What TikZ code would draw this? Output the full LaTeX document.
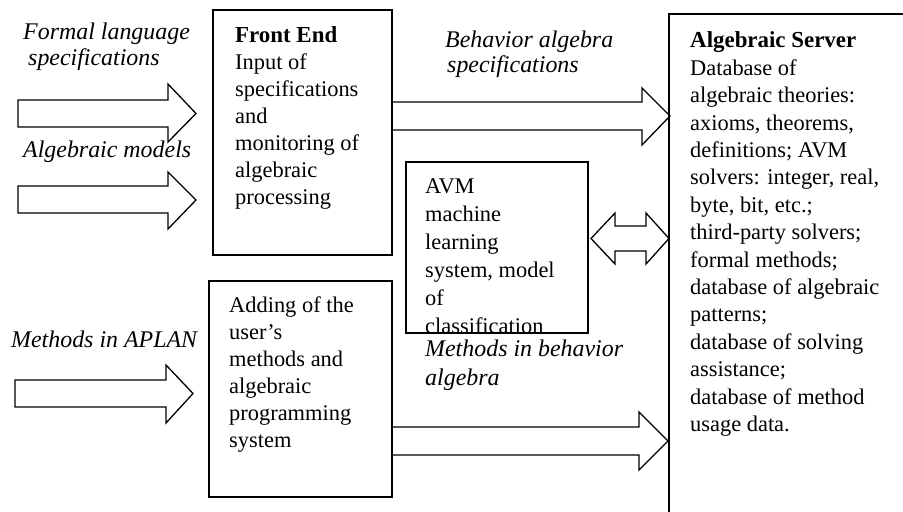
\documentclass[tikz,border=0pt]{standalone}
\usepackage{fontspec}
\setmainfont{Liberation Serif}
\begin{document}
\begin{tikzpicture}[x=1bp,y=-1bp,
  box/.style={draw,line width=1.3bp,inner sep=0pt},
  blk/.style={draw,line width=1.3bp,line join=miter},
  txt/.style={anchor=base west,inner sep=0pt,font=\fontsize{22.5}{27}\selectfont},
  lbl/.style={anchor=base west,inner sep=0pt,font=\fontsize{24}{27}\selectfont\itshape}]
\useasboundingbox (0,0) rectangle (903,512);
\clip (0,0) rectangle (903,512);
% boxes
\node[box,minimum width=179bp,minimum height=245bp] (fe) at (302.5,132.5) {};
\node[box,minimum width=183bp,minimum height=216bp] (add) at (300.5,389) {};
\node[box,minimum width=182bp,minimum height=171bp] (avm) at (497,247.5) {};
\draw[line width=1.3bp] (669,530) coordinate (srvbl) -- (669,14) coordinate (srvtl) -- (920,14) coordinate (srvtr);
% texts in boxes
\node[txt] (fetxt) at (235,43) {\parbox[t]{200bp}{\raggedright{\fontsize{23}{27}\selectfont\textbf{Front End}}\\Input of\\specifications\\and\\monitoring of\\algebraic\\processing}};
\node[txt] (addtxt) at (229,313) {\parbox[t]{200bp}{\raggedright Adding of the\\user’s\\methods and\\algebraic\\programming\\system}};
\begin{scope}
\clip ([shift={(0.65bp,-0.65bp)}]avm.north west) rectangle ([shift={(-0.65bp,1.2bp)}]avm.south east);
\node[txt,font=\fontsize{22.5}{28}\selectfont] (avmtxt) at (425,194) {\parbox[t]{200bp}{\raggedright AVM\\machine\\learning\\system, model\\of\\classification}};
\end{scope}
\node[txt,font=\fontsize{22.5}{27.5}\selectfont] (srvtxt) at (690,48) {\parbox[t]{230bp}{\raggedright{\fontsize{23}{27.5}\selectfont\textbf{Algebraic Server}}\\Database of\\algebraic theories:\\axioms, theorems,\\definitions; AVM\\solvers: integer, real,\\byte, bit, etc.;\\third-party solvers;\\formal methods;\\database of algebraic\\patterns;\\database of solving\\assistance;\\database of method\\usage data.}};
% labels
\node[lbl] (l1a) at (23,40) {Formal language};
\node[lbl] (l1b) at (28,66) {specifications};
\node[lbl] (l2) at (23,158) {Algebraic models};
\node[lbl] (l3) at (11,348) {Methods in APLAN};
\node[lbl] (l4a) at (445,48) {Behavior algebra};
\node[lbl] (l4b) at (447,73) {specifications};
\node[lbl] (l5a) at (425,357) {Methods in behavior};
\node[lbl] (l5b) at (425,385) {algebra};
% block arrows
\draw[blk] (18,100) -- (168,100) -- (168,84) -- (196,113.5) -- (168,142) -- (168,127) -- (18,127) -- cycle;
\draw[blk] (18,186) -- (168,186) -- (168,172) -- (196,200) -- (168,229) -- (168,213) -- (18,213) -- cycle;
\draw[blk] (15,380) -- (166,380) -- (166,365) -- (193,393.5) -- (166,423) -- (166,407) -- (15,407) -- cycle;
\draw[blk] (fe.east |- 0,102) -- (642,102) -- (642,88) -- (670,116) -- (642,145) -- (642,130) -- (fe.east |- 0,130);
\draw[blk] (add.east |- 0,427) -- (639,427) -- (639,412) -- (668,441) -- (639,470) -- (639,455) -- (add.east |- 0,455);
\draw[blk] (591,238.5) -- (615,213) -- (615,226) -- (646,226) -- (646,213) -- (669,238.5) -- (646,264) -- (646,251) -- (615,251) -- (615,264) -- cycle;
\end{tikzpicture}
\end{document}
